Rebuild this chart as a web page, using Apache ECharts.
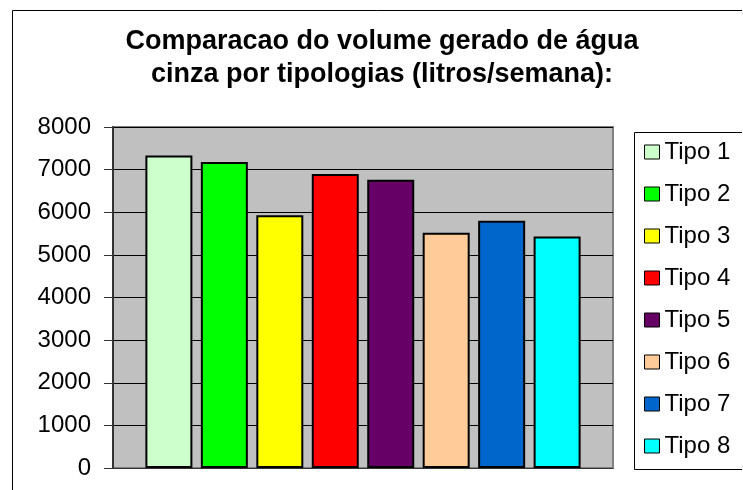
<!DOCTYPE html>
<html>
	<head>
		<meta charset="UTF-8">
		<title></title>
		<style>
			body { margin: 0; background: #fff; }
		</style>
	</head>
	<body>
		<div id="main" style="width: 743px;height:490px;"></div>
		<script src="https://cdn.jsdelivr.net/npm/echarts@6/dist/echarts.min.js"></script>
		<script>
		var tipos = ['Tipo 1', 'Tipo 2', 'Tipo 3', 'Tipo 4', 'Tipo 5', 'Tipo 6', 'Tipo 7', 'Tipo 8'];
		var volumes = [7330, 7180, 5930, 6900, 6760, 5520, 5800, 5430];
		var cores = ['#CCFFCC', '#00FF00', '#FFFF00', '#FF0000', '#660066', '#FFCC99', '#0066CC', '#00FFFF'];
		var yTicks = [0, 8000, 1000];

		var fonte = '"Liberation Sans", Arial, sans-serif';

		var series = [];
		for (var i = 0; i < tipos.length; i++) {
			series.push({
				name: tipos[i],
				type: 'bar',
				data: [volumes[i]],
				barWidth: 47,
				barGap: '18%',
				itemStyle: {
					color: cores[i],
					borderColor: '#000',
					borderWidth: 2
				}
			});
		}

		// molduras (grafico e legenda), cortadas na borda direita como no original
		function linha(x1, y1, x2, y2) {
			return {
				type: 'line',
				shape: { x1: x1, y1: y1, x2: x2, y2: y2 },
				style: { stroke: '#000', lineWidth: 1 },
				silent: true
			};
		}

		var chart = echarts.init(document.getElementById('main'));
		chart.setOption({
			animation: false,
			backgroundColor: '#fff',
			title: {
				text: 'Comparacao do volume gerado de água\ncinza por tipologias (litros/semana):',
				left: 377,
				textAlign: 'center',
				top: 20,
				textStyle: {
					fontFamily: fonte,
					fontSize: 27,
					fontWeight: 'bold',
					color: '#000',
					lineHeight: 33
				}
			},
			legend: {
				orient: 'vertical',
				left: 644,
				top: 140,
				padding: 0,
				itemWidth: 15,
				itemHeight: 14,
				itemGap: 18,
				icon: 'rect',
				itemStyle: { borderColor: '#000', borderWidth: 1 },
				textStyle: {
					fontFamily: fonte,
					fontSize: 24,
					color: '#000',
					lineHeight: 24
				},
				data: tipos
			},
			grid: {
				left: 113,
				right: 130,
				top: 127,
				bottom: 22,
				show: true,
				backgroundColor: '#C0C0C0',
				borderColor: '#808080',
				borderWidth: 2
			},
			xAxis: {
				type: 'category',
				data: [''],
				axisLine: { lineStyle: { color: '#333', width: 1 } },
				axisTick: { show: false },
				axisLabel: { show: false }
			},
			yAxis: {
				type: 'value',
				min: yTicks[0],
				max: yTicks[1],
				interval: yTicks[2],
				axisLine: { show: true, lineStyle: { color: '#333', width: 2 } },
				axisTick: { show: true, inside: false, length: 9, lineStyle: { color: '#333' } },
				axisLabel: {
					margin: 22,
					fontFamily: fonte,
					fontSize: 24,
					color: '#000',
					formatter: function (v) { return String(v); }
				},
				splitLine: { lineStyle: { color: '#000', width: 1 } }
			},
			graphic: [
				linha(12.5, 10.5, 742, 10.5),
				linha(12.5, 10.5, 12.5, 490),
				linha(634.5, 132.5, 742, 132.5),
				linha(634.5, 132.5, 634.5, 469.5),
				linha(634.5, 469.5, 742, 469.5)
			],
			series: series
		});
		</script>
	</body>
</html>
